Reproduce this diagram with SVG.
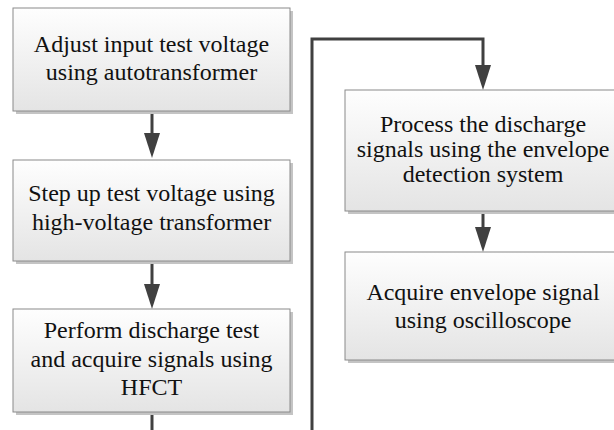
<svg xmlns="http://www.w3.org/2000/svg" width="614" height="430" viewBox="0 0 614 430">
<style>
.box{fill:url(#g);stroke:#8a8a8a;stroke-width:1}
.sh{fill:#c4c4c4}
.t{font-family:"Liberation Serif","Times New Roman",serif;font-size:24px;fill:#111111;text-anchor:middle}
.c{fill:none;stroke:#404040;stroke-width:3}
.ah{fill:#404040}
</style>
<defs>
<linearGradient id="g" x1="0" y1="0" x2="0" y2="1">
<stop offset="0" stop-color="#fefefe"/>
<stop offset="1" stop-color="#e4e4e4"/>
</linearGradient>
</defs>
<rect width="614" height="430" fill="#ffffff"/>
<g id="connectors">
<path class="c" d="M152,111 V133"/>
<path class="ah" d="M144,133 L160,133 L152,158 Z"/>
<path class="c" d="M152,261 V284"/>
<path class="ah" d="M144,284 L160,284 L152,309 Z"/>
<path class="c" d="M152,412 V430"/>
<path class="c" d="M312,430 V39 H483 V65"/>
<path class="ah" d="M475,65 L491,65 L483,90 Z"/>
<path class="c" d="M483,211 V227"/>
<path class="ah" d="M475,227 L491,227 L483,252 Z"/>
</g>
<g id="n1">
<rect class="sh" x="16" y="11" width="277" height="103"/>
<rect class="box" x="13" y="8" width="277" height="103"/>
<text class="t" x="151.5" y="52">Adjust input test voltage</text>
<text class="t" x="151.5" y="80">using autotransformer</text>
</g>
<g id="n2">
<rect class="sh" x="16" y="163" width="277" height="101"/>
<rect class="box" x="13" y="160" width="277" height="101"/>
<text class="t" x="151.5" y="201">Step up test voltage using</text>
<text class="t" x="151.5" y="230">high-voltage transformer</text>
</g>
<g id="n3">
<rect class="sh" x="16" y="312" width="277" height="103"/>
<rect class="box" x="13" y="309" width="277" height="103"/>
<text class="t" x="151.5" y="338">Perform discharge test</text>
<text class="t" x="151.5" y="367">and acquire signals using</text>
<text class="t" x="151.5" y="395">HFCT</text>
</g>
<g id="n4">
<rect class="sh" x="348" y="93" width="276" height="121"/>
<rect class="box" x="345" y="90" width="276" height="121"/>
<text class="t" x="483" y="132">Process the discharge</text>
<text class="t" x="483" y="157">signals using the envelope</text>
<text class="t" x="483" y="182">detection system</text>
</g>
<g id="n5">
<rect class="sh" x="348" y="255" width="276" height="108"/>
<rect class="box" x="345" y="252" width="276" height="108"/>
<text class="t" x="483" y="300">Acquire envelope signal</text>
<text class="t" x="483" y="328">using oscilloscope</text>
</g>
</svg>
